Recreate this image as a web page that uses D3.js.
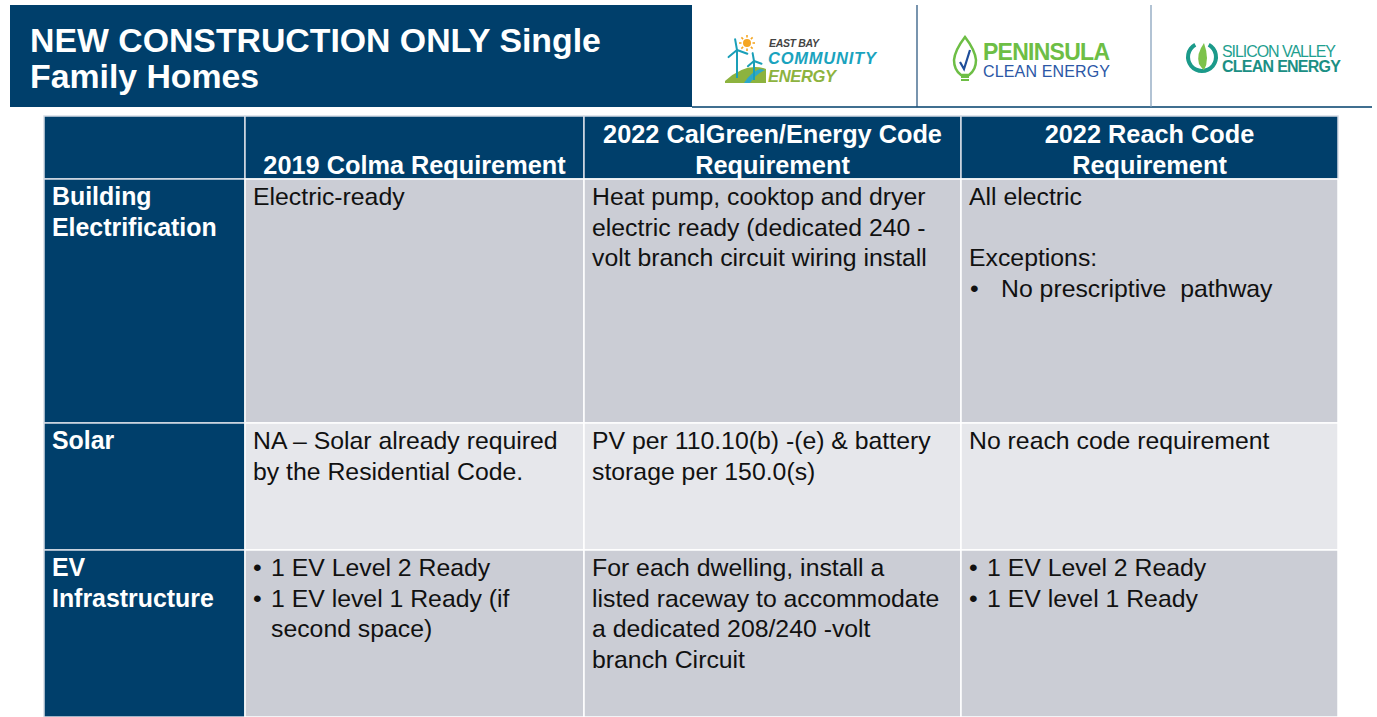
<!DOCTYPE html>
<html>
<head>
<meta charset="utf-8">
<script src="https://cdn.jsdelivr.net/npm/d3@7/dist/d3.min.js"></script>
<style>
  html, body { margin: 0; padding: 0; background: #fff; }
  svg { display: block; }
  text { font-family: "Liberation Sans", Arial, sans-serif; }
</style>
</head>
<body>
<svg id="chart" width="1377" height="717"></svg>
<script>
// ---------------- data ----------------
const titleLines = ["NEW CONSTRUCTION ONLY Single", "Family Homes"];
const columnHeaders = [
  [],
  ["2019 Colma Requirement"],
  ["2022 CalGreen/Energy Code", "Requirement"],
  ["2022 Reach Code", "Requirement"]
];
const rowLabels = [
  ["Building", "Electrification"],
  ["Solar"],
  ["EV", "Infrastructure"]
];
// "• " = bullet, "> " = continuation of bullet, "•\t" = tabbed bullet
const colmaCells = [
  ["Electric-ready"],
  ["NA \u2013 Solar already required", "by the Residential Code."],
  ["• 1 EV Level 2 Ready", "• 1 EV level 1 Ready (if", "> second space)"]
];
const calgreenCells = [
  ["Heat pump, cooktop and dryer", "electric ready (dedicated 240 -", "volt branch circuit wiring install"],
  ["PV per 110.10(b) -(e) & battery", "storage per 150.0(s)"],
  ["For each dwelling, install a", "listed raceway to accommodate", "a dedicated 208/240 -volt", "branch Circuit"]
];
const reachCells = [
  ["All electric", "", "Exceptions:", "•\tNo prescriptive  pathway"],
  ["No reach code requirement"],
  ["• 1 EV Level 2 Ready", "• 1 EV level 1 Ready"]
];
const logoNames = ["East Bay Community Energy", "Peninsula Clean Energy", "Silicon Valley Clean Energy"];

// ---------------- layout ----------------
const svg = d3.select("#chart");
const NAVY = "#003F6B";
const colWeights = [201, 339, 377, 377];
const rowWeights = [63, 244, 127, 167];
const cumCols = [0, ...d3.cumsum(colWeights)];
const cumRows = [0, ...d3.cumsum(rowWeights)];
const x = d3.scaleLinear().domain([0, d3.sum(colWeights)]).range([44, 1338]);
const y = d3.scaleLinear().domain([0, d3.sum(rowWeights)]).range([116, 717]);
const LH = 30.6;
const FS = 24.8;

// ---- title box ----
svg.append("rect").attr("x", 10).attr("y", 5).attr("width", 682).attr("height", 102).attr("fill", NAVY);
svg.append("g").selectAll("text").data(titleLines).join("text")
  .attr("x", 30).attr("y", (d, i) => 52 + i * 36)
  .attr("fill", "#fff").attr("font-weight", "bold").attr("font-size", 33.8)
  .text(d => d);

// header line & dividers
svg.append("line").attr("x1", 692).attr("x2", 1372).attr("y1", 107).attr("y2", 107)
  .attr("stroke", NAVY).attr("stroke-width", 1.5);
svg.append("line").attr("x1", 917).attr("x2", 917).attr("y1", 5).attr("y2", 107)
  .attr("stroke", "#1f4d78").attr("stroke-width", 1.2);
svg.append("line").attr("x1", 1151).attr("x2", 1151).attr("y1", 5).attr("y2", 107)
  .attr("stroke", "#7f9bb8").attr("stroke-width", 1.2);

// ---- logos ----
// East Bay Community Energy
const eb = svg.append("g").attr("class", "logo").attr("aria-label", logoNames[0]);
eb.append("path").attr("d", "M725,81 Q746,62 766,69 L766,83 L725,83 Z").attr("fill", "#8DB33F");
eb.append("path").attr("d", "M744,83 Q751,72 760,69 L765,70 Q756,74 750,83 Z").attr("fill", "#2EA8C9");
// sun
const sun = eb.append("g");
sun.append("circle").attr("cx", 747).attr("cy", 43).attr("r", 4).attr("fill", "#F5A623");
d3.range(8).forEach(i => {
  const a = i * Math.PI / 4;
  sun.append("line").attr("x1", 747 + Math.cos(a) * 5.5).attr("y1", 43 + Math.sin(a) * 5.5)
    .attr("x2", 747 + Math.cos(a) * 8).attr("y2", 43 + Math.sin(a) * 8)
    .attr("stroke", "#F5A623").attr("stroke-width", 1.6);
});
// turbines
[[737, 50, 78, 11], [754, 61, 80, 8]].forEach(([cx, cy, by, r]) => {
  eb.append("line").attr("x1", cx).attr("y1", cy).attr("x2", cx).attr("y2", by)
    .attr("stroke", "#1A9FB8").attr("stroke-width", 2);
  [-100, 20, 140].forEach(deg => {
    const a = deg * Math.PI / 180;
    eb.append("line").attr("x1", cx).attr("y1", cy)
      .attr("x2", cx + Math.cos(a) * r).attr("y2", cy + Math.sin(a) * r)
      .attr("stroke", "#1A9FB8").attr("stroke-width", 2).attr("stroke-linecap", "round");
  });
});
eb.append("text").attr("x", 769).attr("y", 47).attr("font-size", 10.5).attr("font-weight", "bold")
  .attr("font-style", "italic").attr("fill", "#444").attr("textLength", 50)
  .attr("lengthAdjust", "spacing").attr("xml:space", "preserve").text("EAST BAY");
eb.append("text").attr("x", 768).attr("y", 64).attr("font-size", 16.5).attr("font-weight", "bold")
  .attr("font-style", "italic").attr("fill", "#1AA3BE").attr("textLength", 108).text("COMMUNITY");
eb.append("text").attr("x", 768).attr("y", 82).attr("font-size", 16.5).attr("font-weight", "bold")
  .attr("font-style", "italic").attr("fill", "#8DB33F").attr("textLength", 68).text("ENERGY");

// Peninsula Clean Energy
const pe = svg.append("g").attr("class", "logo").attr("aria-label", logoNames[1]);
pe.append("path").attr("d", "M965,37 Q955,50 954,60 Q954,70 961,75 L969,75 Q976,70 976,60 Q975,50 965,37 Z")
  .attr("fill", "none").attr("stroke", "#6DBE45").attr("stroke-width", 2.5);
pe.append("path").attr("d", "M960,62 L964,69 L970,50").attr("fill", "none")
  .attr("stroke", "#1F4E9A").attr("stroke-width", 2.2);
[77, 80].forEach(yy => pe.append("line").attr("x1", 961).attr("x2", 969).attr("y1", yy).attr("y2", yy)
  .attr("stroke", "#6DBE45").attr("stroke-width", 2));
pe.append("text").attr("x", 983).attr("y", 60).attr("font-size", 23).attr("font-weight", "bold")
  .attr("fill", "#6DBE45").attr("textLength", 127).text("PENINSULA");
pe.append("text").attr("x", 983).attr("y", 77).attr("font-size", 16)
  .attr("fill", "#2B57A6").attr("textLength", 127).text("CLEAN ENERGY");

// Silicon Valley Clean Energy
const sv = svg.append("g").attr("class", "logo").attr("aria-label", logoNames[2]);
sv.append("path").attr("d", d3.arc()({ innerRadius: 12, outerRadius: 16, startAngle: 0.5, endAngle: 2 * Math.PI - 0.5 }))
  .attr("transform", "translate(1202,57)").attr("fill", "#1B9A8A");
sv.append("path").attr("d", "M1204,43 Q1196,54 1199,64 Q1203,70 1204,70 Q1210,60 1204,43 Z").attr("fill", "#7DC24B");
sv.append("text").attr("x", 1222).attr("y", 57).attr("font-size", 16).attr("font-weight", "300")
  .attr("fill", "#1FA090").attr("textLength", 114).text("SILICON VALLEY");
sv.append("text").attr("x", 1222).attr("y", 72).attr("font-size", 16).attr("font-weight", "bold")
  .attr("fill", "#1B8F84").attr("textLength", 119).text("CLEAN ENERGY");

// ---- table ----
const table = svg.append("g").attr("class", "table");
const cellFill = (r, c) => {
  if (r === 0 || c === 0) return NAVY;
  return r === 2 ? "#E6E7EB" : "#CBCDD5";
};
const cells = [];
for (let r = 0; r < rowWeights.length; r++)
  for (let c = 0; c < colWeights.length; c++) cells.push({ r, c });
table.selectAll("rect").data(cells).join("rect")
  .attr("x", d => x(cumCols[d.c]))
  .attr("y", d => y(cumRows[d.r]))
  .attr("width", d => x(cumCols[d.c + 1]) - x(cumCols[d.c]))
  .attr("height", d => y(cumRows[d.r + 1]) - y(cumRows[d.r]))
  .attr("fill", d => cellFill(d.r, d.c))
  .attr("stroke", d => (d.r === 0 || d.c === 0) ? "#d6dde6" : "#ffffff")
  .attr("stroke-width", 1.5);

// headers (bottom-aligned, centered)
columnHeaders.forEach((lines, c) => {
  const cx = (x(cumCols[c]) + x(cumCols[c + 1])) / 2;
  const bottom = y(cumRows[1]);
  table.append("g").selectAll("text").data(lines).join("text")
    .attr("x", cx)
    .attr("y", (d, i) => bottom - 5 - (lines.length - 1 - i) * 31)
    .attr("text-anchor", "middle")
    .attr("fill", "#fff").attr("font-weight", "bold").attr("font-size", 25.3)
    .text(d => d);
});

// row labels
rowLabels.forEach((lines, r) => {
  const top = y(cumRows[r + 1]);
  table.append("g").selectAll("text").data(lines).join("text")
    .attr("x", x(cumCols[0]) + 8)
    .attr("y", (d, i) => top + 26 + i * LH)
    .attr("fill", "#fff").attr("font-weight", "bold").attr("font-size", 24.9)
    .text(d => d);
});

// body cells
const bodyCols = [colmaCells, calgreenCells, reachCells];
bodyCols.forEach((col, ci) => {
  const c = ci + 1;
  col.forEach((lines, r) => {
    const left = x(cumCols[c]) + 8;
    const top = y(cumRows[r + 1]);
    const g = table.append("g");
    lines.forEach((line, i) => {
      const yy = top + 26 + i * LH;
      let txt = line, tx = left;
      if (line.startsWith("•\t")) {
        g.append("text").attr("x", left + 1).attr("y", yy).attr("font-size", FS).attr("fill", "#111").text("•");
        txt = line.slice(2); tx = left + 32;
      } else if (line.startsWith("• ")) {
        g.append("text").attr("x", left).attr("y", yy).attr("font-size", FS).attr("fill", "#111").text("•");
        txt = line.slice(2); tx = left + 18;
      } else if (line.startsWith("> ")) {
        txt = line.slice(2); tx = left + 18;
      }
      g.append("text").attr("x", tx).attr("y", yy).attr("font-size", FS).attr("fill", "#111")
        .attr("xml:space", "preserve").style("white-space", "pre").text(txt);
    });
  });
});
</script>
</body>
</html>
